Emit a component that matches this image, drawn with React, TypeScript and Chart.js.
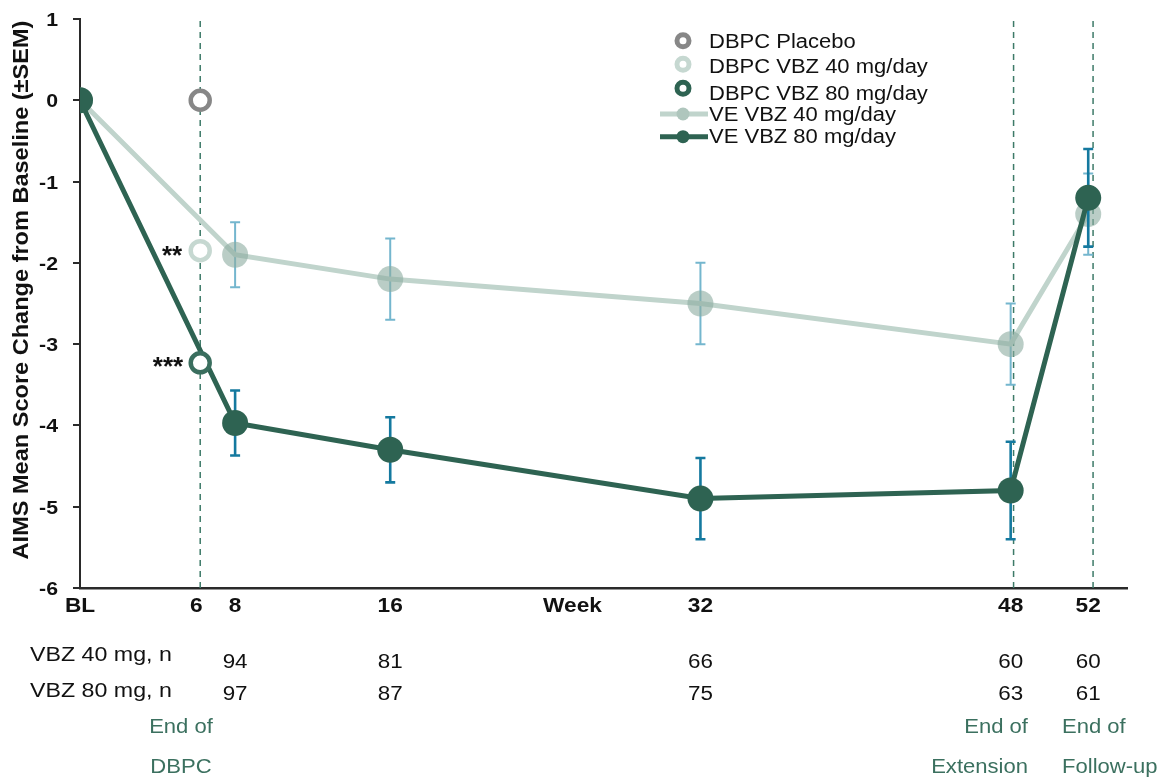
import React, { useEffect, useRef } from 'react';
import { Chart, registerables } from 'chart.js';

Chart.register(...registerables);

// ---- data ----
const weeks = [0, 8, 16, 32, 48, 52];
const ve40Mean = [0, -1.9, -2.2, -2.5, -3.0, -1.4];
const ve40Sem = [0, 0.4, 0.5, 0.5, 0.5, 0.5];
const ve80Mean = [0, -3.97, -4.3, -4.9, -4.8, -1.2];
const ve80Sem = [0, 0.4, 0.4, 0.5, 0.6, 0.6];

const dbpcWeek = 6.2;
const dbpcPlacebo = 0;
const dbpcVbz40 = -1.85;
const dbpcVbz80 = -3.23;

const phaseLineWeeks = [6.2, 48.15, 52.25];

const xTickValues = [0, 6, 8, 16, 25.4, 32, 48, 52];
const xTickLabels = ['BL', '6', '8', '16', 'Week', '32', '48', '52'];
const yTickValues = [1, 0, -1, -2, -3, -4, -5, -6];

const nWeeks = [8, 16, 32, 48, 52];
const n40 = [94, 81, 66, 60, 60];
const n80 = [97, 87, 75, 63, 61];

const legendLabels = [
  'DBPC Placebo',
  'DBPC VBZ 40 mg/day',
  'DBPC VBZ 80 mg/day',
  'VE VBZ 40 mg/day',
  'VE VBZ 80 mg/day',
];

// ---- styles ----
const DARK = '#2E6352';
const LIGHT_LINE = '#C0D4CC';
const LIGHT_PT = 'rgba(140,172,160,0.6)';
const ERR40 = '#74B6CE';
const ERR80 = '#14799F';
const GREY = '#878787';
const RING40 = '#C6D8D1';
const DASH = '#3D7A68';
const AXIS = '#2a2a2a';
const TXT = '#111111';
const GREEN_TXT = '#3B705F';
const FONT = '"Liberation Sans", Arial, sans-serif';

function txt(ctx: CanvasRenderingContext2D, s: string, x: number, y: number, font: string, color: string, align: CanvasTextAlign = 'left', sx = 1.12) {
  ctx.save();
  ctx.font = font;
  ctx.fillStyle = color;
  ctx.textBaseline = 'alphabetic';
  ctx.textAlign = align;
  ctx.translate(x, y);
  ctx.scale(sx, 1);
  ctx.fillText(s, 0, 0);
  ctx.restore();
}

function drawErrors(chart: any, means: number[], sems: number[], color: string, width: number) {
  const ctx = chart.ctx as CanvasRenderingContext2D;
  const xs = chart.scales.x;
  const ys = chart.scales.y;
  ctx.save();
  ctx.strokeStyle = color;
  ctx.lineWidth = width;
  for (let i = 0; i < weeks.length; i++) {
    if (!sems[i]) continue;
    const px = xs.getPixelForValue(weeks[i]);
    const top = ys.getPixelForValue(means[i] + sems[i]);
    const bot = ys.getPixelForValue(means[i] - sems[i]);
    ctx.beginPath();
    ctx.moveTo(px, top);
    ctx.lineTo(px, bot);
    ctx.moveTo(px - 5, top);
    ctx.lineTo(px + 5, top);
    ctx.moveTo(px - 5, bot);
    ctx.lineTo(px + 5, bot);
    ctx.stroke();
  }
  ctx.restore();
}

const customPlugin = {
  id: 'customDraw',
  beforeDatasetDraw(chart: any, args: any) {
    const ds = chart.data.datasets[args.index];
    if (ds.label === legendLabels[3]) drawErrors(chart, ve40Mean, ve40Sem, ERR40, 2);
    if (ds.label === legendLabels[4]) drawErrors(chart, ve80Mean, ve80Sem, ERR80, 2.6);
  },
  afterDraw(chart: any) {
    const ctx = chart.ctx as CanvasRenderingContext2D;
    const xs = chart.scales.x;
    const ys = chart.scales.y;

    // y tick labels
    yTickValues.forEach((v) => {
      txt(ctx, String(v), 58, ys.getPixelForValue(v) + 7, `bold 19px ${FONT}`, TXT, 'right', 1.12);
    });
    // x tick labels
    xTickValues.forEach((v, i) => {
      txt(ctx, xTickLabels[i], xs.getPixelForValue(v), 612, `bold 21px ${FONT}`, TXT, 'center', 1.08);
    });
    // y title
    ctx.save();
    ctx.translate(28, 290);
    ctx.rotate(-Math.PI / 2);
    ctx.scale(1.07, 1);
    ctx.font = `bold 22px ${FONT}`;
    ctx.fillStyle = TXT;
    ctx.textAlign = 'center';
    ctx.textBaseline = 'alphabetic';
    ctx.fillText('AIMS Mean Score Change from Baseline (\u00B1SEM)', 0, 0);
    ctx.restore();

    // significance annotations
    const dx = xs.getPixelForValue(dbpcWeek);
    txt(ctx, '**', dx - 18, ys.getPixelForValue(dbpcVbz40) + 13, `bold 26px ${FONT}`, TXT, 'right', 1.0);
    txt(ctx, '***', dx - 17, ys.getPixelForValue(dbpcVbz80) + 12, `bold 26px ${FONT}`, TXT, 'right', 1.0);

    // legend
    const lx = 683;
    const tx = 709;
    const ringY = [40.7, 64.3, 88.3];
    const ringCol = [GREY, RING40, DARK];
    const textBase = [47.7, 73.3, 100, 120.7, 143.3];
    ringY.forEach((y, i) => {
      ctx.save();
      ctx.beginPath();
      ctx.arc(lx, y, 6, 0, Math.PI * 2);
      ctx.fillStyle = '#fff';
      ctx.fill();
      ctx.lineWidth = 5;
      ctx.strokeStyle = ringCol[i];
      ctx.stroke();
      ctx.restore();
    });
    const lineY = [114, 136.7];
    const lineCol = [LIGHT_LINE, DARK];
    const ptCol = ['#AFC6BD', DARK];
    lineY.forEach((y, i) => {
      ctx.save();
      ctx.strokeStyle = lineCol[i];
      ctx.lineWidth = 5;
      ctx.beginPath();
      ctx.moveTo(660, y);
      ctx.lineTo(708, y);
      ctx.stroke();
      ctx.beginPath();
      ctx.arc(lx, y, 6.5, 0, Math.PI * 2);
      ctx.fillStyle = ptCol[i];
      ctx.fill();
      ctx.restore();
    });
    legendLabels.forEach((s, i) => {
      txt(ctx, s, tx, textBase[i], `20px ${FONT}`, TXT, 'left', 1.1);
    });

    // n table
    txt(ctx, 'VBZ 40 mg, n', 30, 661, `20px ${FONT}`, TXT, 'left', 1.16);
    txt(ctx, 'VBZ 80 mg, n', 30, 697, `20px ${FONT}`, TXT, 'left', 1.16);
    nWeeks.forEach((w, i) => {
      const px = xs.getPixelForValue(w);
      txt(ctx, String(n40[i]), px, 668, `20px ${FONT}`, TXT, 'center', 1.12);
      txt(ctx, String(n80[i]), px, 700, `20px ${FONT}`, TXT, 'center', 1.12);
    });

    // phase labels
    const gf = `21px ${FONT}`;
    txt(ctx, 'End of', 181, 733, gf, GREEN_TXT, 'center', 1.05);
    txt(ctx, 'DBPC', 181, 773, gf, GREEN_TXT, 'center', 1.05);
    txt(ctx, 'End of', 1028, 733, gf, GREEN_TXT, 'right', 1.05);
    txt(ctx, 'Extension', 1028, 773, gf, GREEN_TXT, 'right', 1.05);
    txt(ctx, 'End of', 1062, 733, gf, GREEN_TXT, 'left', 1.05);
    txt(ctx, 'Follow-up', 1062, 773, gf, GREEN_TXT, 'left', 1.05);
  },
};

export default function App() {
  const ref = useRef<HTMLCanvasElement | null>(null);

  useEffect(() => {
    if (!ref.current) return;

    const dashSets = phaseLineWeeks.map((w) => ({
      label: 'phase-' + w,
      data: [{ x: w, y: -6 }, { x: w, y: 1 }],
      showLine: true,
      borderColor: DASH,
      borderWidth: 1.5,
      borderDash: [6, 5],
      pointRadius: 0,
      order: 10,
    }));

    const ring = (label: string, y: number, color: string) => ({
      label,
      data: [{ x: dbpcWeek, y }],
      pointRadius: 9.5,
      pointBorderWidth: 4.5,
      pointBackgroundColor: '#fff',
      pointBorderColor: color,
      order: 1,
    });

    const chart = new Chart(ref.current, {
      type: 'scatter',
      data: {
        datasets: [
          ring(legendLabels[0], dbpcPlacebo, GREY),
          ring(legendLabels[1], dbpcVbz40, RING40),
          ring(legendLabels[2], dbpcVbz80, '#3A6E5E'),
          {
            label: legendLabels[4],
            data: weeks.map((w, i) => ({ x: w, y: ve80Mean[i] })),
            showLine: true,
            borderColor: DARK,
            borderWidth: 5,
            pointRadius: 13,
            pointBorderWidth: 0,
            pointBackgroundColor: DARK,
            order: 2,
          },
          {
            label: legendLabels[3],
            data: weeks.map((w, i) => ({ x: w, y: ve40Mean[i] })),
            showLine: true,
            borderColor: LIGHT_LINE,
            borderWidth: 5,
            pointRadius: 13,
            pointBorderWidth: 0,
            pointBackgroundColor: LIGHT_PT,
            order: 3,
          },
          ...dashSets,
        ] as any,
      },
      options: {
        animation: false,
        responsive: false,
        devicePixelRatio: 1,
        events: [],
        layout: { padding: { top: 19, right: 35, left: 0, bottom: 0 } },
        plugins: {
          legend: { display: false },
          tooltip: { enabled: false },
        },
        scales: {
          x: {
            type: 'linear',
            min: 0,
            max: 54,
            afterBuildTicks: (s: any) => {
              s.ticks = xTickValues.map((v) => ({ value: v }));
            },
            afterFit: (s: any) => {
              s.height = 781 - 588;
            },
            ticks: { display: false },
            grid: { display: false },
            border: { display: true, color: AXIS, width: 2.5 },
          },
          y: {
            type: 'linear',
            min: -6,
            max: 1,
            afterBuildTicks: (s: any) => {
              s.ticks = yTickValues.map((v) => ({ value: v }));
            },
            afterFit: (s: any) => {
              s.width = 80;
            },
            ticks: { display: false },
            grid: { drawOnChartArea: false, drawTicks: true, tickLength: 7, color: AXIS, lineWidth: 2 },
            border: { display: true, color: AXIS, width: 2 },
          },
        },
      } as any,
      plugins: [customPlugin as any],
    });

    return () => chart.destroy();
  }, []);

  return (
    <div style={{ position: 'absolute', left: 0, top: 0, width: 1162, height: 781, background: '#fff' }}>
      <canvas ref={ref} width={1162} height={781} style={{ width: 1162, height: 781, display: 'block' }} />
    </div>
  );
}
